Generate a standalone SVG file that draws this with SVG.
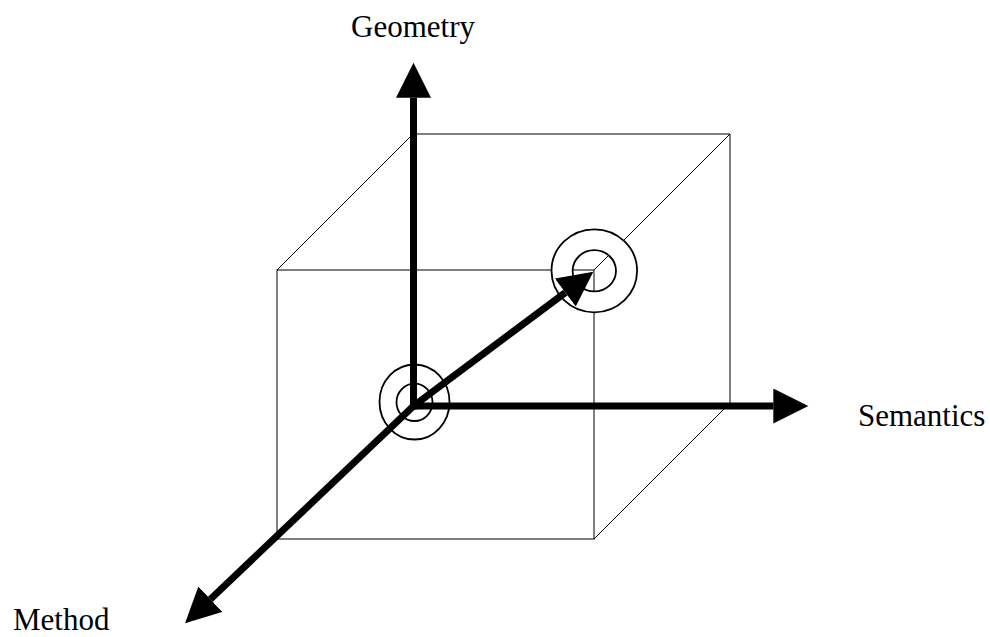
<svg xmlns="http://www.w3.org/2000/svg" width="990" height="637" viewBox="0 0 990 637">
<style>
.edge{stroke:#000;stroke-width:1;fill:none}
.ring{fill:none;stroke:#fff}
.circ{fill:none;stroke:#000;stroke-width:1.8}
.axis{stroke:#000;stroke-width:7;fill:none;marker-end:url(#ah)}
.lbl{font-family:"Liberation Serif","Times New Roman",serif;font-size:31px;fill:#000}
</style>
<defs>
<marker id="ah" markerUnits="userSpaceOnUse" markerWidth="36" markerHeight="36" refX="0" refY="17.5" orient="auto" viewBox="0 0 36 36">
<path d="M0,0 L35,17.5 L0,35 Z" fill="#000"/>
</marker>
</defs>
<rect width="990" height="637" fill="#fff"/>
<g id="cube">
<rect class="edge" x="277" y="270" width="317" height="269"/>
<path class="edge" d="M277,270 L413,134 L730,134 L730,403 M594,270 L730,134 M594,539 L730,403"/>
</g>
<g id="node-corner">
<ellipse class="ring" cx="594.3" cy="270.8" rx="32.3" ry="31.2" stroke-width="21"/>
<ellipse class="circ" cx="594.3" cy="270.8" rx="42.8" ry="41.5"/>
<ellipse class="circ" cx="594.3" cy="270.8" rx="21.7" ry="20.6"/>
</g>
<g id="node-origin">
<ellipse class="ring" cx="414.5" cy="402" rx="26.5" ry="28" stroke-width="18"/>
<ellipse class="circ" cx="414.5" cy="402" rx="35" ry="37.5"/>
<ellipse class="circ" cx="414.5" cy="402.3" rx="18" ry="18.7"/>
</g>
<g id="connectors">
<line class="axis" x1="413.5" y1="409.5" x2="413.5" y2="97.7"/>
<line class="axis" x1="410" y1="406" x2="773.3" y2="406"/>
<line class="axis" x1="413.5" y1="406" x2="210.4" y2="599.2"/>
<line class="axis" x1="413.5" y1="406" x2="565.3" y2="292.6"/>
</g>
<g id="labels">
<text class="lbl" x="351" y="37">Geometry</text>
<text class="lbl" x="858" y="426">Semantics</text>
<text class="lbl" x="13" y="630">Method</text>
</g>
</svg>
